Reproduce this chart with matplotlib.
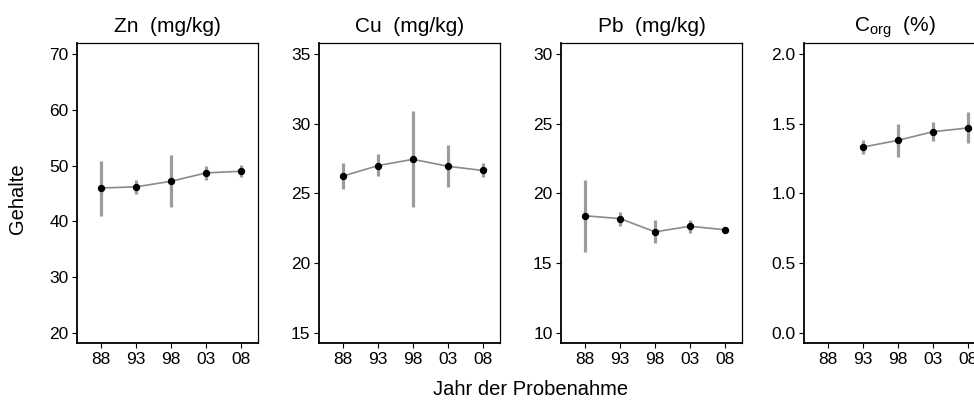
import numpy as np
import matplotlib
matplotlib.use('Agg')
import matplotlib.pyplot as plt

plt.rcParams['font.family'] = ['Liberation Sans', 'DejaVu Sans']
plt.rcParams['mathtext.fontset'] = 'custom'
plt.rcParams['mathtext.rm'] = 'Liberation Sans'
plt.rcParams['mathtext.it'] = 'Liberation Sans'

# Probenahmejahre
years = ['88', '93', '98', '03', '08']

# Zn (mg/kg)
zn_mean = [46.0, 46.2, 47.2, 48.7, 49.0]
zn_lo = [41.0, 44.9, 42.6, 47.4, 47.9]
zn_hi = [50.9, 47.5, 51.9, 50.0, 50.1]

# Cu (mg/kg)
cu_mean = [26.25, 27.0, 27.45, 26.95, 26.65]
cu_lo = [25.35, 26.25, 24.0, 25.45, 26.15]
cu_hi = [27.2, 27.8, 30.95, 28.45, 27.2]

# Pb (mg/kg)
pb_mean = [18.4, 18.2, 17.25, 17.65, 17.4]
pb_lo = [15.8, 17.7, 16.45, 17.15, 17.2]
pb_hi = [21.0, 18.65, 18.1, 18.1, 17.6]

# Corg (%) - 1988 nicht gemessen
corg_mean = [np.nan, 1.333, 1.381, 1.443, 1.47]
corg_lo = [np.nan, 1.286, 1.264, 1.374, 1.36]
corg_hi = [np.nan, 1.381, 1.498, 1.51, 1.582]

titles = ['Zn  (mg/kg)', 'Cu  (mg/kg)', 'Pb  (mg/kg)', r'C$_{\mathrm{org}}$  (%)']
yticks = [[20, 30, 40, 50, 60, 70], [15, 20, 25, 30, 35], [10, 15, 20, 25, 30],
          [0.0, 0.5, 1.0, 1.5, 2.0]]
ylims = [(18.2, 72.0), (14.28, 35.79), (9.28, 30.79), (-0.072, 2.079)]
series = [(zn_mean, zn_lo, zn_hi), (cu_mean, cu_lo, cu_hi),
          (pb_mean, pb_lo, pb_hi), (corg_mean, corg_lo, corg_hi)]

W, H = 974, 401
fig = plt.figure(figsize=(W / 100, H / 100), dpi=100)

lefts = [77, 319, 561, 804]
x = np.arange(1, len(years) + 1)

for i, (mean, lo, hi) in enumerate(series):
    ax = fig.add_axes([lefts[i] / W, (H - 343) / H, 181 / W, 300 / H])
    mean = np.array(mean, dtype=float)
    lo = np.array(lo, dtype=float)
    hi = np.array(hi, dtype=float)

    # Streubereich
    ax.vlines(x, lo, hi, color='#9c9c9c', lw=2.3, zorder=1)
    ax.plot(x, mean, '-', color='#8a8a8a', lw=1.2, zorder=2)
    ax.plot(x, mean, 'o', color='black', ms=4.3, zorder=3)

    ax.set_xlim(0.31, 5.49)
    ax.set_ylim(*ylims[i])
    ax.set_xticks(x)
    ax.set_xticklabels(years)
    ax.set_yticks(yticks[i])
    if i == 3:
        ax.set_yticklabels(['%.1f' % v for v in yticks[i]])
    ax.tick_params(direction='out', length=3.6, width=0.8, labelsize=12.5,
                   color='black')
    ax.tick_params(axis='x', pad=3.0)
    ax.tick_params(axis='y', pad=2.5)
    for side in ['left', 'bottom']:
        ax.spines[side].set_linewidth(1.3)
    for side in ['top', 'right']:
        ax.spines[side].set_linewidth(0.9)

    ax.text(0.5, 1.037, titles[i], transform=ax.transAxes, ha='center',
            va='baseline', fontsize=15)

fig.text(18 / W, 1 - 199 / H, 'Gehalte', rotation=90, ha='center', va='center',
         fontsize=14.5)
fig.text(531 / W, 1 - 395 / H, 'Jahr der Probenahme', ha='center', va='baseline',
         fontsize=14.5)

fig.savefig('out.png', dpi=100)
